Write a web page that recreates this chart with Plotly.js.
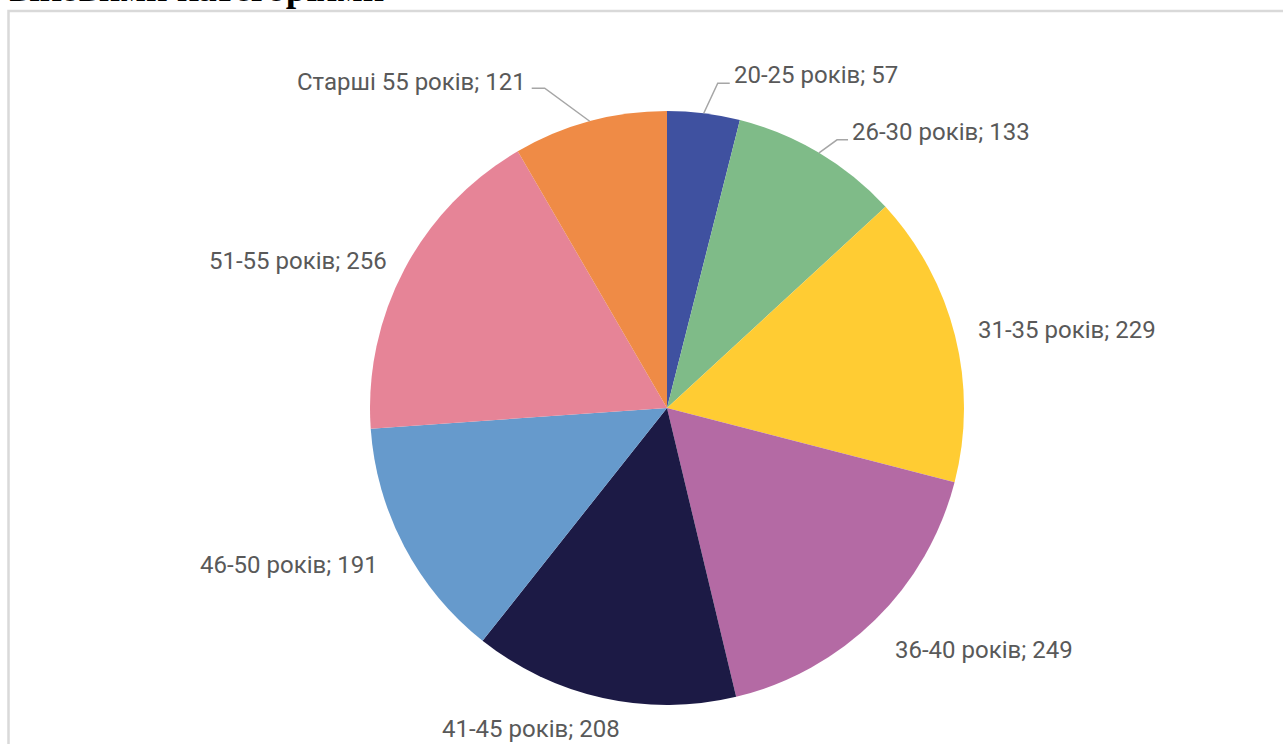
<!DOCTYPE html>
<html>
<head>
<meta charset="utf-8">
<script src="https://cdn.plot.ly/plotly-3.0.1.min.js"></script>
<style>
  html, body { margin: 0; padding: 0; background: #ffffff; }
  #chart { width: 1283px; height: 744px; }
</style>
</head>
<body>
<div id="chart"></div>
<script>
// ---- data ----
const categories = ["20-25 років", "26-30 років", "31-35 років", "36-40 років",
                    "41-45 років", "46-50 років", "51-55 років", "Старші 55 років"];
const counts = [57, 133, 229, 249, 208, 191, 256, 121];
const titleText = "віковими категоріями";

// ---- style / layout ----
const sliceColors = ["#3f51a0", "#7fbb88", "#ffcc33", "#b46aa4",
                     "#1c1a45", "#669acc", "#e68497", "#ef8b46"];
// label offsets (pixels) from the slice's outer mid-point
const labelOffsets = [[112, -38], [122, -21], [112, -6], [109, 30],
                      [-72, 31.5], [-115, 18], [-106.5, -7.5], [-178, -39]];
// elbow leader lines (pixel offsets from slice mid-point), null = no leader
const leaderPts = [[[14, -30], [26, -30]], [[18, -13], [29, -13]], null, null,
                   null, null, null, [[-45, -33], [-58, -33]]];

const W = 1283, H = 744;
const M = {l: 370, r: 319, t: 111, b: 39};
const PW = W - M.l - M.r, PH = H - M.t - M.b;
const px2x = px => (px - M.l) / PW;
const py2y = py => (H - M.b - py) / PH;

const total = counts.reduce((a, b) => a + b, 0);
const annotations = [];
const shapes = [];
let cum = 0;
counts.forEach((v, i) => {
  const mid = (cum + v / 2) / total * 2 * Math.PI;
  cum += v;
  const ex = 0.5 + 0.5 * Math.sin(mid);
  const ey = 0.5 + 0.5 * Math.cos(mid);
  const [dx, dy] = labelOffsets[i];
  annotations.push({
    xref: 'paper', yref: 'paper',
    x: ex + dx / PW, y: ey - dy / PH,
    xanchor: 'center', yanchor: 'middle',
    text: categories[i] + '; ' + v,
    showarrow: false,
    font: {family: 'Roboto, "Noto Sans", sans-serif', size: 24, color: '#595959'}
  });
  if (leaderPts[i]) {
    let path = 'M ' + ex + ' ' + ey;
    leaderPts[i].forEach(([lx, ly]) => {
      path += ' L ' + (ex + lx / PW) + ' ' + (ey - ly / PH);
    });
    shapes.push({type: 'path', xref: 'paper', yref: 'paper', path: path,
                 line: {color: '#a6a6a6', width: 1.5}});
  }
});

// outer frame of the chart area
shapes.push({type: 'rect', xref: 'paper', yref: 'paper', layer: 'below',
             x0: px2x(8.5), x1: px2x(1300), y0: py2y(760), y1: py2y(11),
             line: {color: '#d9d9d9', width: 2.5}, fillcolor: 'rgba(0,0,0,0)'});

// cut-off title (only its lower part is visible, as in the reference)
annotations.push({
  xref: 'paper', yref: 'paper', x: px2x(7), y: py2y(11),
  xanchor: 'left', yanchor: 'bottom', showarrow: false,
  text: '<b>' + titleText + '</b>',
  font: {family: '"Liberation Serif", "Times New Roman", serif', size: 37.5, color: '#000000'}
});

const trace = {
  type: 'pie',
  labels: categories,
  values: counts,
  sort: false,
  direction: 'clockwise',
  rotation: 0,
  textinfo: 'none',
  hoverinfo: 'label+value',
  marker: {colors: sliceColors, line: {color: '#ffffff', width: 0}},
  domain: {x: [0, 1], y: [0, 1]}
};

const layout = {
  width: W, height: H,
  margin: M,
  showlegend: false,
  paper_bgcolor: '#ffffff',
  plot_bgcolor: '#ffffff',
  annotations: annotations,
  shapes: shapes
};

Plotly.newPlot('chart', [trace], layout, {displayModeBar: false, staticPlot: true});
</script>
</body>
</html>
